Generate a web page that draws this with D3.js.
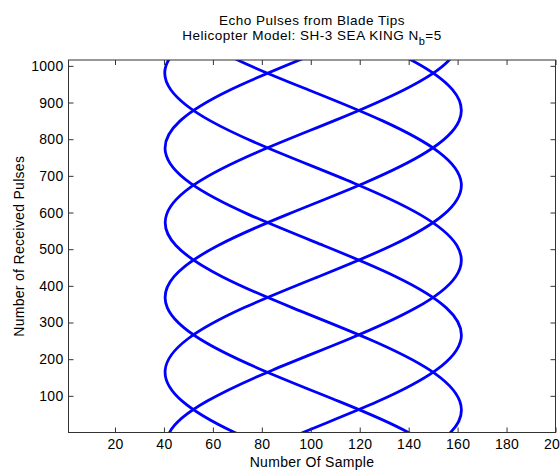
<!DOCTYPE html>
<html>
<head>
<meta charset="utf-8">
<script src="https://cdn.jsdelivr.net/npm/d3@7"></script>
<style>
  body { margin: 0; background: #fff; }
  svg { display: block; font-family: "Liberation Sans", Arial, sans-serif; }
  text { letter-spacing: 0.3px; }
</style>
</head>
<body>
<div class="canvas"></div>
<script>
const pulses = [-85, 0, 85, 170, 255, 340, 425, 510, 595, 680, 765, 850, 935, 1020, 1105];

// sample number (range bin) of each blade tip at those pulses
const blade1 = [42.8, 42.3, 57.5, 84.3, 115.6, 143.0, 159.2, 159.7, 144.5, 117.7, 86.4, 59.0, 42.8, 42.3, 57.5];
const blade2 = [67.2, 96.8, 127.5, 151.2, 161.4, 155.4, 134.8, 105.2, 74.5, 50.8, 40.6, 46.6, 67.2, 96.8, 127.5];
const blade3 = [138.2, 157.1, 160.9, 148.7, 123.7, 92.6, 63.8, 44.9, 41.1, 53.3, 78.3, 109.4, 138.2, 157.1, 160.9];
const blade4 = [157.9, 139.9, 111.5, 80.3, 54.7, 41.4, 44.1, 62.1, 90.5, 121.7, 147.3, 160.6, 157.9, 139.9, 111.5];
const blade5 = [98.9, 68.9, 47.6, 40.5, 49.7, 72.6, 103.1, 133.1, 154.4, 161.5, 152.3, 129.4, 98.9, 68.9, 47.6];
const blades = [blade1, blade2, blade3, blade4, blade5];

const xTicks = [20, 40, 60, 80, 100, 120, 140, 160, 180, 200];
const yTicks = [100, 200, 300, 400, 500, 600, 700, 800, 900, 1000];

const width = 560;
const height = 471;
const plotLeft = 68.5, plotRight = 555.5, plotTop = 60, plotBottom = 432.5;

const svg = d3
  .select(".canvas")
  .append("svg")
  .attr("width", width)
  .attr("height", height);

const x = d3.scaleLinear().domain([1, 200]).range([plotLeft, plotRight]);
const y = d3.scaleLinear().domain([0, 1016]).range([plotBottom, plotTop]);

svg
  .append("clipPath")
  .attr("id", "plot")
  .append("rect")
  .attr("x", plotLeft)
  .attr("y", plotTop)
  .attr("width", plotRight - plotLeft)
  .attr("height", plotBottom - plotTop);

const line = d3
  .line()
  .x((d) => x(d[1]))
  .y((d) => y(d[0]))
  .curve(d3.curveNatural);

svg
  .append("g")
  .attr("clip-path", "url(#plot)")
  .selectAll("path")
  .data(blades)
  .enter()
  .append("path")
  .attr("d", (blade) => line(blade.map((v, i) => [pulses[i], v])))
  .attr("fill", "none")
  .attr("stroke", "#0000ff")
  .attr("stroke-width", 2.8);

// axes with MATLAB-like inward ticks on all sides
const axisColor = "#333";
svg
  .append("g")
  .attr("transform", `translate(0,${plotBottom})`)
  .call(d3.axisBottom(x).tickValues(xTicks).tickSizeInner(-5).tickSizeOuter(0).tickPadding(7).tickFormat(d3.format("d")))
  .call((g) => g.select(".domain").remove());
svg
  .append("g")
  .attr("transform", `translate(0,${plotTop})`)
  .call(d3.axisTop(x).tickValues(xTicks).tickSizeInner(-5).tickSizeOuter(0).tickFormat(""))
  .call((g) => g.select(".domain").remove());
svg
  .append("g")
  .attr("transform", `translate(${plotLeft},0)`)
  .call(d3.axisLeft(y).tickValues(yTicks).tickSizeInner(-5).tickSizeOuter(0).tickPadding(5).tickFormat(d3.format("d")))
  .call((g) => g.select(".domain").remove());
svg
  .append("g")
  .attr("transform", `translate(${plotRight},0)`)
  .call(d3.axisRight(y).tickValues(yTicks).tickSizeInner(-5).tickSizeOuter(0).tickFormat(""))
  .call((g) => g.select(".domain").remove());

svg.selectAll(".tick line").attr("stroke", axisColor);
svg
  .selectAll(".tick text")
  .attr("fill", "#000")
  .style("font-size", "14px")
  .style("font-family", "Liberation Sans, Arial, sans-serif");

svg
  .append("rect")
  .attr("x", plotLeft)
  .attr("y", plotTop)
  .attr("width", plotRight - plotLeft)
  .attr("height", plotBottom - plotTop)
  .attr("fill", "none")
  .attr("stroke", axisColor)
  .attr("stroke-width", 1);

const cx = (plotLeft + plotRight) / 2;

svg
  .append("text")
  .attr("x", cx)
  .attr("y", 24.5)
  .attr("text-anchor", "middle")
  .style("font-size", "13.5px")
  .style("letter-spacing", "0.5px")
  .text("Echo Pulses from Blade Tips");

const t2 = svg
  .append("text")
  .attr("x", cx)
  .attr("y", 40)
  .attr("text-anchor", "middle")
  .style("font-size", "13.5px")
  .style("letter-spacing", "0.5px");
t2.append("tspan").text("Helicopter Model: SH-3 SEA KING N");
t2.append("tspan").attr("dy", 5).style("font-size", "11px").text("b");
t2.append("tspan").attr("dy", -5).text("=5");

svg
  .append("text")
  .attr("x", cx)
  .attr("y", 467)
  .attr("text-anchor", "middle")
  .style("font-size", "14px")
  .text("Number Of Sample");

svg
  .append("text")
  .attr("transform", `translate(24,${(plotTop + plotBottom) / 2}) rotate(-90)`)
  .attr("text-anchor", "middle")
  .style("font-size", "14px")
  .text("Number of Received Pulses");
</script>
</body>
</html>
